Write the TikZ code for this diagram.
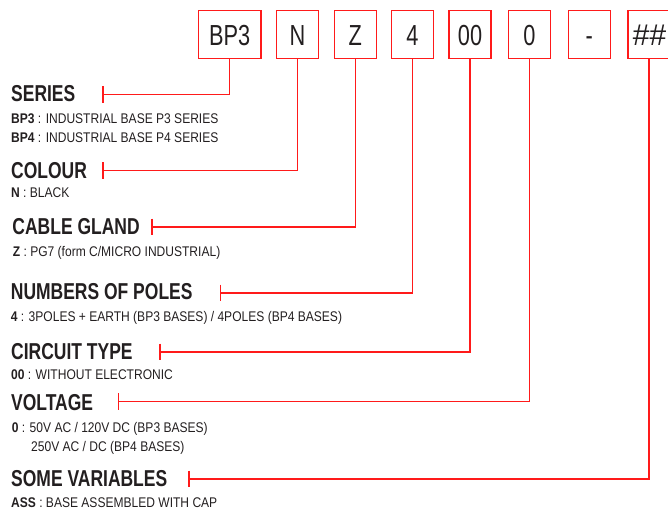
\documentclass[tikz,border=0pt]{standalone}
\usepackage{fontspec}
\setmainfont{Liberation Sans}
\newfontfamily\headfont[FakeStretch=0.76]{Liberation Sans}
\newfontfamily\bodyfont[FakeStretch=0.86]{Liberation Sans}
\newfontfamily\codefont[FakeStretch=0.75]{Liberation Sans}
\definecolor{ink}{HTML}{231F20}
\definecolor{lred}{HTML}{FF1A1A}
\begin{document}
\begin{tikzpicture}[x=1pt,y=-1pt,
  codebox/.style={draw=lred, line width=1.3pt, minimum width=42pt, minimum height=47.6pt,
    inner sep=0pt, text height=21pt, text depth=0pt,
    font=\codefont\fontsize{29}{30}\selectfont, text=ink},
  heading/.style={anchor=base west, inner sep=0pt,
    font=\headfont\bfseries\fontsize{23}{25}\selectfont, text=ink},
  desc/.style={anchor=base west, inner sep=0pt,
    font=\bodyfont\fontsize{14}{19}\selectfont, text=ink},
  conn/.style={draw=lred, line width=1.3pt},
]
\useasboundingbox (0,0) rectangle (668,509);
\begin{scope}
\clip (0,0) rectangle (668,509);
% code boxes
\node[codebox, minimum width=62.7pt] (bp3) at (229.7,34.5) {BP3};
\node[codebox] (n)  at (297.5,34.5) {N};
\node[codebox] (z)  at (355.3,34.5) {Z};
\node[codebox] (p4) at (412.3,34.5) {4};
\node[codebox] (c00) at (470,34.5) {00};
\node[codebox] (v0) at (529.3,34.5) {0};
\node[codebox] (dash) at (589.2,34.5) {-};
\node[codebox, font=\rmfamily\itshape\fontsize{30}{31}\selectfont] (hh) at (649,34.5) {\#\#};

% headings
\node[heading] (hser) at (11,101.7) {SERIES};
\node[heading] (hcol) at (11,178.3) {COLOUR};
\node[heading] (hcab) at (12.3,234.3) {CABLE GLAND};
\node[heading] (hpol) at (10.7,299.3) {NUMBERS OF POLES};
\node[heading] (hcir) at (11,359.3) {CIRCUIT TYPE};
\node[heading] (hvol) at (11,410.7) {VOLTAGE};
\node[heading] (hvar) at (11,486.7) {SOME VARIABLES};

% descriptions
\node[desc] (d1) at (11,123.3) {\textbf{BP3} : INDUSTRIAL BASE P3 SERIES};
\node[desc] (d2) at (11,142.3) {\textbf{BP4} : INDUSTRIAL BASE P4 SERIES};
\node[desc] (d3) at (11,197.3) {\textbf{N} : BLACK};
\node[desc] (d4) at (12.7,256.7) {\textbf{Z} : PG7 (form C/MICRO INDUSTRIAL)};
\node[desc] (d5) at (10.7,321.7) {\textbf{4} : 3POLES + EARTH (BP3 BASES) / 4POLES (BP4 BASES)};
\node[desc] (d6) at (11,379) {\textbf{00} : WITHOUT ELECTRONIC};
\node[desc] (d7) at (11.7,432.7) {\textbf{0} : 50V AC / 120V DC (BP3 BASES)};
\node[desc] (d8) at (31,451.7) {250V AC / DC (BP4 BASES)};
\node[desc] (d9) at (11,507.6) {\textbf{ASS} : BASE ASSEMBLED WITH CAP};

% tick coordinates
\coordinate (t1) at (103,94.3);
\coordinate (t2) at (103,170.5);
\coordinate (t3) at (152,227);
\coordinate (t4) at (220.3,293);
\coordinate (t5) at (160,352);
\coordinate (t6) at (118.3,401.7);
\coordinate (t7) at (189,479);

% connectors
\draw[conn] (bp3.south) |- (t1);
\draw[conn] (n.south) |- (t2);
\draw[conn] (z.south) |- (t3);
\draw[conn] (p4.south) |- (t4);
\draw[conn] (c00.south) |- (t5);
\draw[conn] (v0.south) |- (t6);
\draw[conn] (hh.south) |- (t7);
\foreach \t in {t1,t2,t3,t4,t5,t6,t7}
  \draw[conn] ([yshift=8.3pt]\t) -- ([yshift=-8.3pt]\t);
\end{scope}
\end{tikzpicture}
\end{document}
